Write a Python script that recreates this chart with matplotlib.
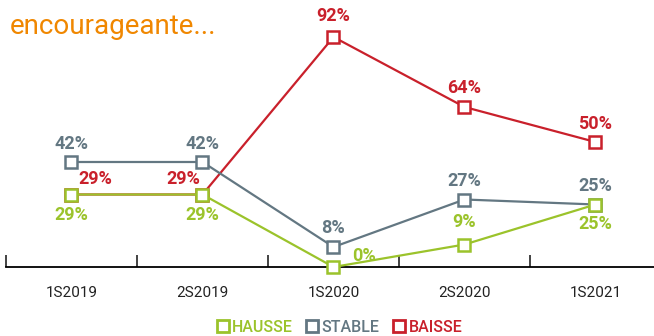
import matplotlib
matplotlib.use('Agg')
import matplotlib.pyplot as plt
from matplotlib.lines import Line2D

periods = ["1S2019", "2S2019", "1S2020", "2S2020", "1S2021"]
hausse = [29, 29, 0, 9, 25]
stable = [42, 42, 8, 27, 25]
baisse = [29, 29, 92, 64, 50]

GREEN = "#9bc32b"
GREY = "#637782"
RED = "#c9202b"
ORANGE = "#f08700"

# label offsets in points (dx, dy) for each series / period
hausse_off = [(0, -15), (0, -15), (22, 8), (0, 16), (0, -14)]
stable_off = [(0, 13), (0, 13), (0, 14), (0, 13), (0, 13)]
baisse_off = [(17, 11), (-14, 11), (0, 15), (0, 14), (0, 13)]

plt.rcParams['font.family'] = ['Roboto', 'DejaVu Sans']

fig = plt.figure(figsize=(6.54, 3.36), dpi=100)
# axes box: left edge at the first tick, zero on the axis line
ax = fig.add_axes([6 / 654, 69 / 336, 655 / 654, 250 / 336])
x = list(range(len(periods)))

def draw(vals, color, offs, z):
    ax.plot(x, vals, color=color, lw=1.6, marker='s', ms=8.5,
            mfc='white', mec=color, mew=1.8, zorder=z, clip_on=False)
    for xi, v, (dx, dy) in zip(x, vals, offs):
        ax.annotate(f"{v}%", (xi, v), xytext=(dx, dy), textcoords='offset points',
                    ha='center', va='center', color=color, fontsize=13,
                    fontweight='bold', zorder=z + 5)

draw(baisse, RED, baisse_off, 3)
draw(stable, GREY, stable_off, 4)
draw(hausse, GREEN, hausse_off, 5)

ax.set_xlim(-0.5, 4.5)
ax.set_ylim(0, 100)
for s in ['top', 'right', 'left']:
    ax.spines[s].set_visible(False)
ax.spines['bottom'].set_linewidth(1.3)
ax.set_yticks([])
ax.set_xticks(x)
ax.set_xticklabels(periods, fontsize=11, color='#222222')
ax.tick_params(axis='x', which='major', length=0, pad=14)
ax.set_xticks([-0.5, 0.5, 1.5, 2.5, 3.5, 4.5], minor=True)
ax.tick_params(axis='x', which='minor', direction='in', length=9, width=1.2, color='#222222')

fig.text(10 / 654, 1 - 27 / 336, "encourageante...", color=ORANGE, fontsize=20,
         va='center', ha='left')

handles = [Line2D([], [], ls='none', marker='s', ms=8.5, mfc='white', mec=c, mew=2)
           for c in (GREEN, GREY, RED)]
leg = fig.legend(handles, ["HAUSSE", "STABLE", "BAISSE"], loc='center',
                 bbox_to_anchor=(340 / 654, 1 - 327 / 336), ncol=3, frameon=False,
                 handlelength=0.6, handletextpad=0.3, columnspacing=0.9,
                 prop={'size': 11.5, 'weight': 'medium'})
for t, c in zip(leg.get_texts(), (GREEN, GREY, RED)):
    t.set_color(c)

fig.savefig('out.png', dpi=100)
